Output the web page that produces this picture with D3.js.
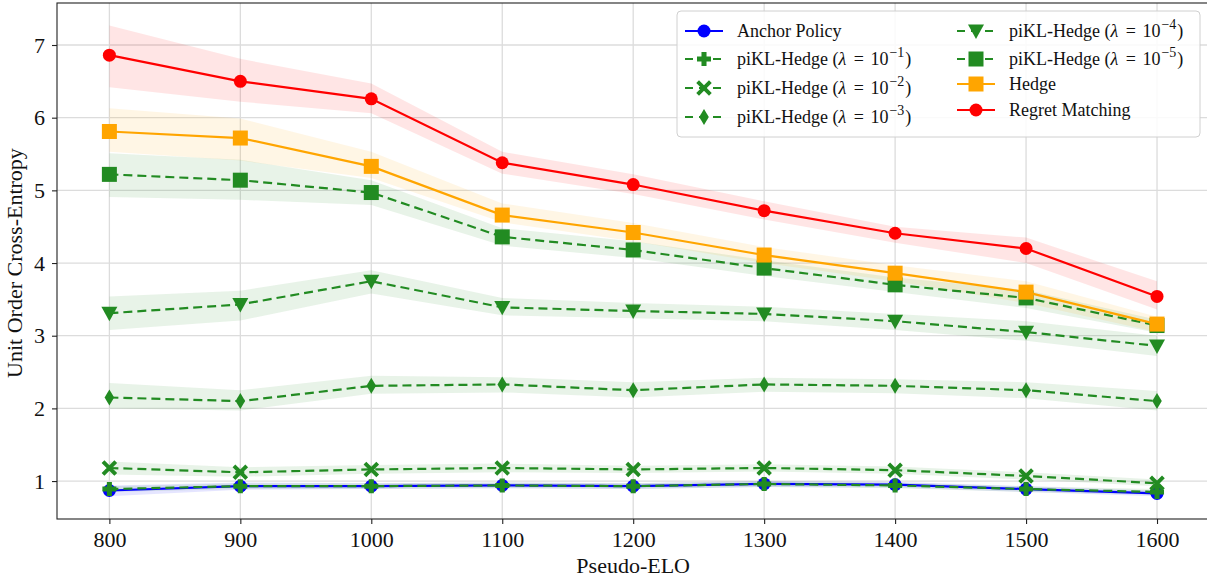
<!DOCTYPE html>
<html>
<head>
<meta charset="utf-8">
<script src="https://cdn.jsdelivr.net/npm/d3@7"></script>
<style>
  body { margin: 0; background: #fff; }
  svg text { font-family: "Liberation Serif", "DejaVu Serif", serif; fill: #111; }
</style>
</head>
<body>
<div id="chart"></div>
<script>
const width = 1207;
const height = 581;

const elo = [800, 900, 1000, 1100, 1200, 1300, 1400, 1500, 1600];
const xTicks = [800, 900, 1000, 1100, 1200, 1300, 1400, 1500, 1600];
const yTicks = [1, 2, 3, 4, 5, 6, 7];

// mean, lower, upper per series
const anchorMean = [0.87, 0.93, 0.93, 0.94, 0.93, 0.96, 0.95, 0.89, 0.83];
const anchorLo   = [0.79, 0.88, 0.89, 0.90, 0.89, 0.92, 0.91, 0.85, 0.79];
const anchorHi   = [0.94, 0.98, 0.97, 0.98, 0.97, 1.00, 0.99, 0.93, 0.87];

const lam1Mean = [0.89, 0.93, 0.93, 0.94, 0.93, 0.96, 0.94, 0.89, 0.85];
const lam1Lo   = [0.85, 0.89, 0.89, 0.90, 0.89, 0.92, 0.90, 0.85, 0.81];
const lam1Hi   = [0.93, 0.97, 0.97, 0.98, 0.97, 1.00, 0.98, 0.93, 0.89];

const lam2Mean = [1.18, 1.12, 1.16, 1.18, 1.16, 1.18, 1.15, 1.07, 0.97];
const lam2Lo   = [1.09, 1.06, 1.10, 1.12, 1.11, 1.13, 1.10, 1.02, 0.93];
const lam2Hi   = [1.27, 1.19, 1.22, 1.24, 1.21, 1.23, 1.20, 1.12, 1.02];

const lam3Mean = [2.15, 2.10, 2.31, 2.33, 2.25, 2.33, 2.31, 2.25, 2.10];
const lam3Lo   = [2.00, 1.97, 2.20, 2.22, 2.15, 2.23, 2.21, 2.14, 1.97];
const lam3Hi   = [2.35, 2.25, 2.45, 2.43, 2.36, 2.42, 2.40, 2.36, 2.24];

const lam4Mean = [3.31, 3.43, 3.75, 3.39, 3.34, 3.30, 3.20, 3.05, 2.86];
const lam4Lo   = [3.08, 3.21, 3.58, 3.28, 3.24, 3.20, 3.08, 2.93, 2.72];
const lam4Hi   = [3.54, 3.62, 3.90, 3.52, 3.45, 3.40, 3.30, 3.20, 3.00];

const lam5Mean = [5.22, 5.14, 4.97, 4.36, 4.18, 3.93, 3.70, 3.52, 3.14];
const lam5Lo   = [4.91, 4.87, 4.80, 4.24, 4.07, 3.82, 3.60, 3.38, 3.04];
const lam5Hi   = [5.51, 5.42, 5.14, 4.48, 4.30, 4.04, 3.80, 3.63, 3.22];

const hedgeMean = [5.81, 5.72, 5.33, 4.66, 4.42, 4.11, 3.86, 3.60, 3.16];
const hedgeLo   = [5.53, 5.41, 5.17, 4.56, 4.30, 4.00, 3.75, 3.45, 3.05];
const hedgeHi   = [6.13, 5.99, 5.53, 4.82, 4.55, 4.22, 3.97, 3.75, 3.26];

const rmMean = [6.86, 6.50, 6.26, 5.38, 5.08, 4.72, 4.41, 4.20, 3.54];
const rmLo   = [6.42, 6.22, 6.06, 5.23, 4.95, 4.60, 4.28, 4.00, 3.36];
const rmHi   = [7.27, 6.81, 6.47, 5.53, 5.22, 4.85, 4.50, 4.35, 3.75];

const green = "#228b22";

const series = [
  {name: "Anchor Policy", exp: null, mean: anchorMean, lo: anchorLo, hi: anchorHi, color: "blue", dash: null, marker: "circle", size: 14},
  {name: "piKL-Hedge", exp: "−1", mean: lam1Mean, lo: lam1Lo, hi: lam1Hi, color: green, dash: "9,5", marker: "plus", size: 14},
  {name: "piKL-Hedge", exp: "−2", mean: lam2Mean, lo: lam2Lo, hi: lam2Hi, color: green, dash: "9,5", marker: "cross", size: 15},
  {name: "piKL-Hedge", exp: "−3", mean: lam3Mean, lo: lam3Lo, hi: lam3Hi, color: green, dash: "9,5", marker: "diamond", size: 16},
  {name: "piKL-Hedge", exp: "−4", mean: lam4Mean, lo: lam4Lo, hi: lam4Hi, color: green, dash: "9,5", marker: "tri", size: 16},
  {name: "piKL-Hedge", exp: "−5", mean: lam5Mean, lo: lam5Lo, hi: lam5Hi, color: green, dash: "9,5", marker: "square", size: 15},
  {name: "Hedge", exp: null, mean: hedgeMean, lo: hedgeLo, hi: hedgeHi, color: "orange", dash: null, marker: "square", size: 15},
  {name: "Regret Matching", exp: null, mean: rmMean, lo: rmLo, hi: rmHi, color: "red", dash: null, marker: "circle", size: 14}
];

const margin = {left: 57, top: 3, bottom: 62};
const plotRight = 1209.4;

const svg = d3.select("#chart").append("svg")
  .attr("width", width)
  .attr("height", height);

const x = d3.scaleLinear().domain([760, 1640]).range([margin.left, plotRight]);
const y = d3.scaleLinear().domain([0.478, 7.578]).range([height - margin.bottom, margin.top]);

// grid
svg.append("g").selectAll("line.gx").data(xTicks).enter().append("line")
  .attr("x1", d => x(d)).attr("x2", d => x(d))
  .attr("y1", y.range()[0]).attr("y2", y.range()[1])
  .attr("stroke", "#dcdcdc").attr("stroke-width", 1.3);
svg.append("g").selectAll("line.gy").data(yTicks).enter().append("line")
  .attr("x1", margin.left).attr("x2", plotRight)
  .attr("y1", d => y(d)).attr("y2", d => y(d))
  .attr("stroke", "#dcdcdc").attr("stroke-width", 1.3);

// bands
const area = d3.area()
  .x((d, i) => x(elo[i]))
  .y0(d => y(d[0]))
  .y1(d => y(d[1]));

series.forEach(s => {
  svg.append("path")
    .datum(s.lo.map((v, i) => [v, s.hi[i]]))
    .attr("d", area)
    .attr("fill", s.color)
    .attr("fill-opacity", 0.1);
});

const line = d3.line().x((d, i) => x(elo[i])).y(d => y(d));

function drawMarker(g, type, size, color) {
  const r = size / 2;
  if (type === "circle") {
    g.append("circle").attr("r", r - 0.5).attr("fill", color);
  } else if (type === "square") {
    g.append("rect").attr("x", -r).attr("y", -r).attr("width", size).attr("height", size).attr("fill", color);
  } else if (type === "tri") {
    g.append("path").attr("d", `M${-r},${-r * 0.8}L${r},${-r * 0.8}L0,${r}Z`).attr("fill", color);
  } else if (type === "diamond") {
    const w = r * 0.6;
    g.append("path").attr("d", `M0,${-r}L${w},0L0,${r}L${-w},0Z`).attr("fill", color);
  } else if (type === "plus") {
    const t = size * 0.18;
    g.append("path").attr("d", `M${-t},${-r}H${t}V${-t}H${r}V${t}H${t}V${r}H${-t}V${t}H${-r}V${-t}H${-t}Z`).attr("fill", color);
  } else if (type === "cross") {
    g.append("path").attr("d", `M${-r * 0.85},${-r * 0.85}L${r * 0.85},${r * 0.85}M${r * 0.85},${-r * 0.85}L${-r * 0.85},${r * 0.85}`)
      .attr("stroke", color).attr("stroke-width", size * 0.26);
  }
}

series.forEach(s => {
  svg.append("path")
    .datum(s.mean)
    .attr("d", line)
    .attr("fill", "none")
    .attr("stroke", s.color)
    .attr("stroke-width", 2.2)
    .attr("stroke-dasharray", s.dash);
  s.mean.forEach((v, i) => {
    const g = svg.append("g").attr("transform", `translate(${x(elo[i])},${y(v)})`);
    drawMarker(g, s.marker, s.size, s.color);
  });
});

// axes
const xAxis = d3.axisBottom(x).tickValues(xTicks).tickSize(5).tickPadding(7).tickFormat(d3.format("d"));
const yAxis = d3.axisLeft(y).tickValues(yTicks).tickSize(5).tickPadding(7);

const gx = svg.append("g").attr("transform", "translate(0," + y.range()[0] + ")").call(xAxis);
const gy = svg.append("g").attr("transform", "translate(" + margin.left + ",0)").call(yAxis);
[gx, gy].forEach(g => {
  g.select(".domain").remove();
  g.selectAll("line").attr("stroke", "#222").attr("stroke-width", 1.1);
  g.selectAll("text").style("font-size", "22px").attr("fill", "#111");
});

svg.append("rect")
  .attr("x", margin.left).attr("y", margin.top)
  .attr("width", plotRight - margin.left).attr("height", y.range()[0] - margin.top)
  .attr("fill", "none").attr("stroke", "#222").attr("stroke-width", 1.1);

svg.append("text")
  .attr("x", x(1200)).attr("y", 573)
  .attr("text-anchor", "middle")
  .style("font-size", "22px")
  .text("Pseudo-ELO");

svg.append("text")
  .attr("transform", `translate(22,${y(4)}) rotate(-90)`)
  .attr("text-anchor", "middle")
  .style("font-size", "22px")
  .text("Unit Order Cross-Entropy");

// legend
const legend = svg.append("g");
legend.append("rect")
  .attr("x", 677).attr("y", 11).attr("width", 523).attr("height", 126)
  .attr("rx", 4)
  .attr("fill", "#fff").attr("fill-opacity", 0.85)
  .attr("stroke", "#d0d0d0").attr("stroke-width", 1);

const legendPos = [
  [685, 31], [685, 59], [685, 88], [685, 117],
  [957, 31], [957, 59], [957, 84], [957, 110]
];

series.forEach((s, i) => {
  const [lx, ly] = legendPos[i];
  const g = legend.append("g").attr("transform", `translate(${lx},${ly})`);
  g.append("line").attr("x1", 0).attr("x2", 38).attr("y1", 0).attr("y2", 0)
    .attr("stroke", s.color).attr("stroke-width", 2.2)
    .attr("stroke-dasharray", s.dash ? "8,6" : null);
  const m = g.append("g").attr("transform", "translate(19,0)");
  drawMarker(m, s.marker, s.size, s.color);
  const t = g.append("text").attr("x", 52).attr("y", 6).style("font-size", "18px");
  t.append("tspan").text(s.name);
  if (s.exp) {
    t.append("tspan").text(" (");
    t.append("tspan").style("font-style", "italic").text("λ");
    t.append("tspan").attr("dx", 3).text(" = ");
    t.append("tspan").attr("dx", 2).text("10");
    t.append("tspan").attr("dy", -8).attr("dx", 1).style("font-size", "14px").text(s.exp);
    t.append("tspan").attr("dy", 8).attr("dx", 1).text(")");
  }
});
</script>
</body>
</html>
